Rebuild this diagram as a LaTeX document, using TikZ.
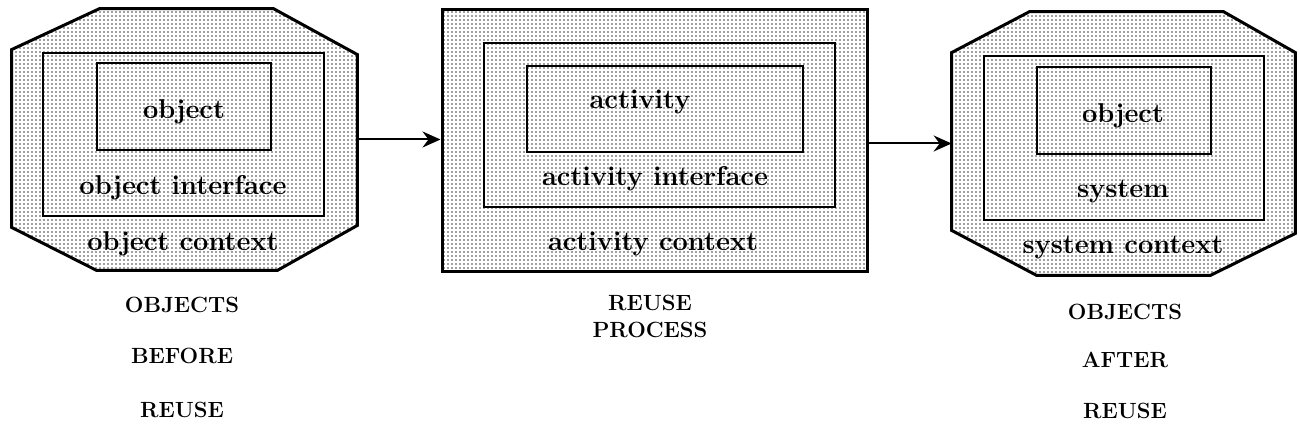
\documentclass[tikz,border=0pt]{standalone}
\usetikzlibrary{patterns.meta,fit,calc,arrows.meta}
\begin{document}
\begin{tikzpicture}[x=0.5pt,y=-0.5pt,
  dotfill/.style={pattern={Dots[distance=2pt,radius=0.42pt]},pattern color=black!75},
  outerline/.style={draw,line width=1.5pt,line join=miter},
  innerbox/.style={draw,line width=1.1pt,inner sep=0pt},
  frame/.style={inner sep=0pt},
  lbl/.style={font=\fontsize{13.6}{16}\selectfont\bfseries,inner sep=1pt},
  caption/.style={font=\fontsize{11}{13}\selectfont\bfseries,inner sep=1pt},
  flow/.style={line width=1pt,-{Stealth[length=9pt,width=8pt,inset=3pt]}}]
\useasboundingbox (0,0) rectangle (1300,448);

% ---- objects before reuse ----
\node[frame,fit={(12,9) (357,270)}] (ctxA) {};
\fill[dotfill] ($(ctxA.north west)+(88,0)$) -- ($(ctxA.north east)+(-84,0)$)
  -- ($(ctxA.north east)+(0,46)$) -- ($(ctxA.south east)+(0,-45)$)
  -- ($(ctxA.south east)+(-80,0)$) -- ($(ctxA.south west)+(85,0)$)
  -- ($(ctxA.south west)+(0,-43)$) -- ($(ctxA.north west)+(0,41)$) -- cycle;
\draw[outerline] ($(ctxA.north west)+(88,0)$) -- ($(ctxA.north east)+(-84,0)$)
  -- ($(ctxA.north east)+(0,46)$) -- ($(ctxA.south east)+(0,-45)$)
  -- ($(ctxA.south east)+(-80,0)$) -- ($(ctxA.south west)+(85,0)$)
  -- ($(ctxA.south west)+(0,-43)$) -- ($(ctxA.north west)+(0,41)$) -- cycle;
\node[innerbox,fit={(43,53) (324,216)}] (ifA) {};
\node[innerbox,fit={(97,63) (271,150)}] (objA) {};
\node[lbl] (tObjA) at (184,112) {object};
\node[lbl] (tIfA) at (183,188) {object interface};
\node[lbl] (tCtxA) at (183,244) {object context};
\node[caption] (cA1) at (182,305) {OBJECTS};
\node[caption] (cA2) at (182,356) {BEFORE};
\node[caption] (cA3) at (182,410) {REUSE};

% ---- reuse process ----
\node[frame,fit={(442,10) (867,272)},dotfill,outerline] (ctxB) {};
\node[innerbox,fit={(484,43) (835,207)}] (ifB) {};
\node[innerbox,fit={(527,66) (803,152)}] (actB) {};
\node[lbl] (tActB) at (640,102) {activity};
\node[lbl] (tIfB) at (655,179) {activity interface};
\node[lbl] (tCtxB) at (653,244) {activity context};
\node[caption] (cB1) at (650,303) {REUSE};
\node[caption] (cB2) at (650,330) {PROCESS};

% ---- objects after reuse ----
\node[frame,fit={(952,12) (1295,275)}] (ctxC) {};
\fill[dotfill] ($(ctxC.north west)+(78,0)$) -- ($(ctxC.north east)+(-72,0)$)
  -- ($(ctxC.north east)+(0,41)$) -- ($(ctxC.south east)+(0,-42)$)
  -- ($(ctxC.south east)+(-85,0)$) -- ($(ctxC.south west)+(85,0)$)
  -- ($(ctxC.south west)+(0,-45)$) -- ($(ctxC.north west)+(0,41)$) -- cycle;
\draw[outerline] ($(ctxC.north west)+(78,0)$) -- ($(ctxC.north east)+(-72,0)$)
  -- ($(ctxC.north east)+(0,41)$) -- ($(ctxC.south east)+(0,-42)$)
  -- ($(ctxC.south east)+(-85,0)$) -- ($(ctxC.south west)+(85,0)$)
  -- ($(ctxC.south west)+(0,-45)$) -- ($(ctxC.north west)+(0,41)$) -- cycle;
\node[innerbox,fit={(984,56) (1264,220)}] (ifC) {};
\node[innerbox,fit={(1037,67) (1211,154)}] (objC) {};
\node[lbl] (tObjC) at (1123,116) {object};
\node[lbl] (tIfC) at (1123,192) {system};
\node[lbl] (tCtxC) at (1123,248) {system context};
\node[caption] (cC1) at (1125,312) {OBJECTS};
\node[caption] (cC2) at (1125,360) {AFTER};
\node[caption] (cC3) at (1125,411) {REUSE};

% ---- flow between the stages ----
\draw[flow] (ctxA.east) -- (ctxB.west |- ctxA.east);
\draw[flow] (ctxB.east |- ctxC.east) -- (ctxC.west);
\end{tikzpicture}
\end{document}
